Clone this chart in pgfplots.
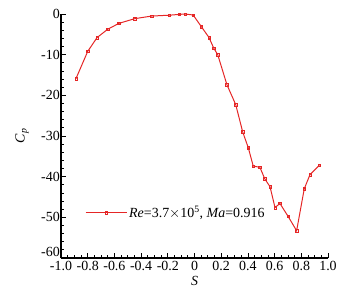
\documentclass[border=0pt]{standalone}
\usepackage{pgfplots}
\pgfplotsset{compat=1.18}
\usepackage{fontspec}
\setmainfont{Liberation Serif}
\usetikzlibrary{calc}
\definecolor{cpred}{rgb}{0.90,0.15,0.15}
\begin{document}
\begin{tikzpicture}
\begin{axis}[
  scale only axis,
  width=267bp, height=244bp,
  xmin=-1, xmax=1, ymin=-60, ymax=0,
  axis x line*=bottom, axis y line*=left,
  axis line style={line width=1.1pt},
  xtick={-1,-0.8,...,1.0},
  xticklabels={-1.0,-0.8,-0.6,-0.4,-0.2,0,0.2,0.4,0.6,0.8,1.0},
  ytick={-60,-50,...,0},
  yticklabels={\raisebox{1.5pt}[0pt][0pt]{-60},-50,-40,-30,-20,-10,0},
  minor x tick num=3,
  minor y tick num=4,
  tick align=inside,
  major tick length=5bp,
  minor tick length=3bp,
  tick style={black, line width=0.8pt},
  font=\fontsize{14}{16}\selectfont,
  ticklabel style={font=\fontsize{14}{16}\selectfont},
  /pgf/number format/assume math mode=true,
  xticklabel style={yshift=-2pt, inner sep=1pt},
  yticklabel style={inner sep=1pt},
  xlabel={\textit{S}},
  ylabel={\textit{C}\textsubscript{\textit{p}}},
  xlabel style={at={(axis description cs:0.5,-0.094)}, anchor=center},
  ylabel style={at={(axis description cs:-0.146,0.5)}, anchor=center},
  legend style={draw=none, fill=none, at={(axis description cs:0.09,0.186)}, anchor=west, inner sep=0pt, font=\fontsize{14}{16}\selectfont},
  legend cell align=left,
  legend image code/.code={\draw[#1,mark repeat=2,mark phase=2] plot coordinates {(0bp,0bp) (20.5bp,0bp) (41bp,0bp)};},
  clip=false,
]
\addplot[color=cpred, line width=1.0pt, mark=square, mark size=1.2pt, mark options={line width=0.5pt}] coordinates {
(-0.888,-15.9)
(-0.80,-9.2)
(-0.73,-5.8)
(-0.65,-3.75)
(-0.566,-2.3)
(-0.448,-1.15)
(-0.32,-0.5)
(-0.19,-0.3)
(-0.116,-0.1)
(-0.07,0.0)
(-0.01,-0.25)
(0.051,-3.1)
(0.109,-5.8)
(0.144,-8.4)
(0.174,-10.0)
(0.243,-17.4)
(0.309,-22.3)
(0.361,-29.0)
(0.403,-32.9)
(0.44,-37.4)
(0.49,-37.7)
(0.526,-40.5)
(0.566,-42.5)
(0.603,-47.6)
(0.64,-46.6)
(0.70,-49.7)
(0.765,-53.3)
(0.822,-43.0)
(0.865,-39.5)
(0.935,-37.2)
};
\addlegendentry{\textit{Re}=3.7$\times$10\textsuperscript{5}, \textit{Ma}=0.916}
\coordinate (ll) at (rel axis cs:0,0);
\coordinate (ur) at (rel axis cs:1,1);
\end{axis}
\pgfresetboundingbox
\path ($(ll)+(-61bp,-34bp)$) rectangle ($(ur)+(17bp,14bp)$);
\end{tikzpicture}
\end{document}
